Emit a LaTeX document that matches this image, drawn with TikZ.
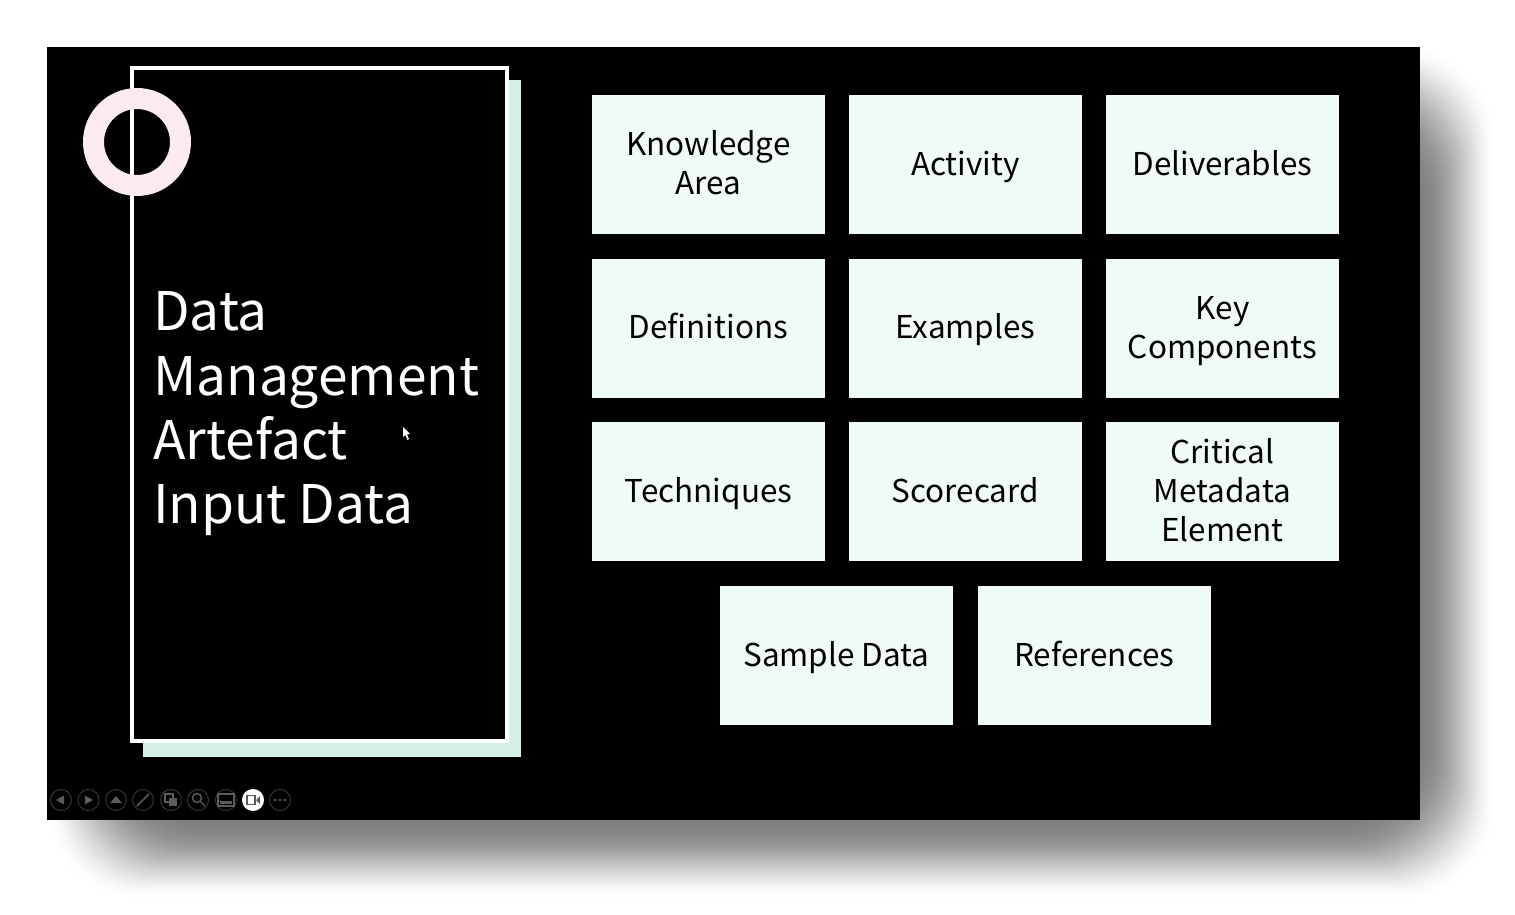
\documentclass[tikz,border=0pt]{standalone}
\usepackage{fontspec}
\setmainfont{Noto Sans CJK SC}
\usetikzlibrary{positioning}
\definecolor{cardfill}{HTML}{F0FBF7}
\definecolor{backfill}{HTML}{D6EFE7}
\definecolor{ringfill}{HTML}{FBEBF1}
\definecolor{tooldark}{HTML}{333333}
\definecolor{toolicon}{HTML}{5C5C5C}
\newcommand{\cardtop}{\rule{0pt}{18.9pt}}
\begin{document}
\begin{tikzpicture}[x=0.02cm,y=-0.02cm,
    node distance=0.493cm and 0.48cm,
    card/.style={rectangle,fill=cardfill,minimum width=4.66cm,minimum height=2.78cm,inner sep=0pt,outer sep=0pt,align=center,text=black,font=\fontsize{17.9}{22.2}\selectfont,execute at begin node=\cardtop,execute at end node=\strut},
    tool/.style={circle,draw=tooldark,line width=0.6pt,minimum size=0.42cm,inner sep=0pt}]
\useasboundingbox (0,0) rectangle (1515,915);
\foreach \k in {0,...,39} {
  \pgfmathsetmacro{\fade}{0.027*sin(180*(\k+0.5)/40)}
  \fill[black,opacity=\fade,rounded corners=1.8cm]
    (45+2.15*\k,45+2.15*\k) rectangle (1497-2.15*\k,900-2.15*\k);
}
\fill[black] (47,47) rectangle (1420,820);
\node [rectangle,fill=backfill,minimum width=7.56cm,minimum height=13.54cm,anchor=north west,inner sep=0pt,outer sep=0pt] (back) at (143,80) {};
\node [rectangle,draw=white,fill=black,line width=2pt,minimum width=7.5cm,minimum height=13.46cm,anchor=north west,inner sep=0pt,outer sep=0pt] (frame) at (132,68) {};
\fill[ringfill,even odd rule] (137,142) circle (54) (137,142) circle (33);
\node [anchor=north west,inner sep=0pt,align=left,text=white,font=\fontsize{30.3}{36.5}\selectfont] (title) at (153,291.5) {Data\\Management\\Artefact\\Input Data};
\fill[white] (403,427) -- (403,437) -- (405.5,435) -- (407.5,440) -- (409,439) -- (407,434.5) -- (410,434) -- cycle;

\node [card,anchor=north west] (knowledge) at (592,95) {\cardtop Knowledge\\Area\strut};
\node [card,right=of knowledge] (activity) {Activity};
\node [card,right=of activity] (deliverables) {Deliverables};
\node [card,below=of knowledge] (definitions) {Definitions};
\node [card,right=of definitions] (examples) {Examples};
\node [card,right=of examples] (components) {\cardtop Key\\Components\strut};
\node [card,below=of definitions] (techniques) {Techniques};
\node [card,right=of techniques] (scorecard) {Scorecard};
\node [card,right=of scorecard] (element) {\cardtop Critical\\Metadata\\Element\strut};
\node [card,anchor=north west] (sample) at (720,586) {Sample Data};
\node [card,right=0.5cm of sample] (references) {References};

\node [tool] (prev) at (61,800) {};
\node [tool] (next) at (88.5,800) {};
\node [tool] (up) at (116,800) {};
\node [tool] (pen) at (143,800) {};
\node [tool] (slides) at (171,800) {};
\node [tool] (zoom) at (198,800) {};
\node [tool] (subs) at (226,800) {};
\node [tool,fill=white,draw=white] (camera) at (253,800) {};
\node [tool] (more) at (280,800) {};
\fill[toolicon] (56,800) -- (64,795.5) -- (64,804.5) -- cycle;
\fill[toolicon] (93,800) -- (85,795.5) -- (85,804.5) -- cycle;
\fill[toolicon] (116,796) -- (122,803) -- (110,803) -- cycle;
\draw[toolicon,line width=1pt] (137,806) -- (149,794);
\draw[toolicon,line width=0.6pt] (165,794) rectangle (173,802);
\fill[toolicon] (169,798) rectangle (177,806);
\draw[toolicon,line width=0.8pt] (197,798) circle (4.5) (200.5,801.5) -- (205,806);
\draw[toolicon,line width=0.6pt] (218,794) rectangle (234,806);
\fill[toolicon] (220,801) rectangle (232,804);
\draw[toolicon,line width=0.7pt] (247,795.5) rectangle (255,804.5);
\fill[toolicon] (256,800) -- (260,796) -- (260,804) -- cycle;
\foreach \d in {275,280,285}
  \fill[toolicon] (\d,800) circle (1.3);
\end{tikzpicture}
\end{document}
